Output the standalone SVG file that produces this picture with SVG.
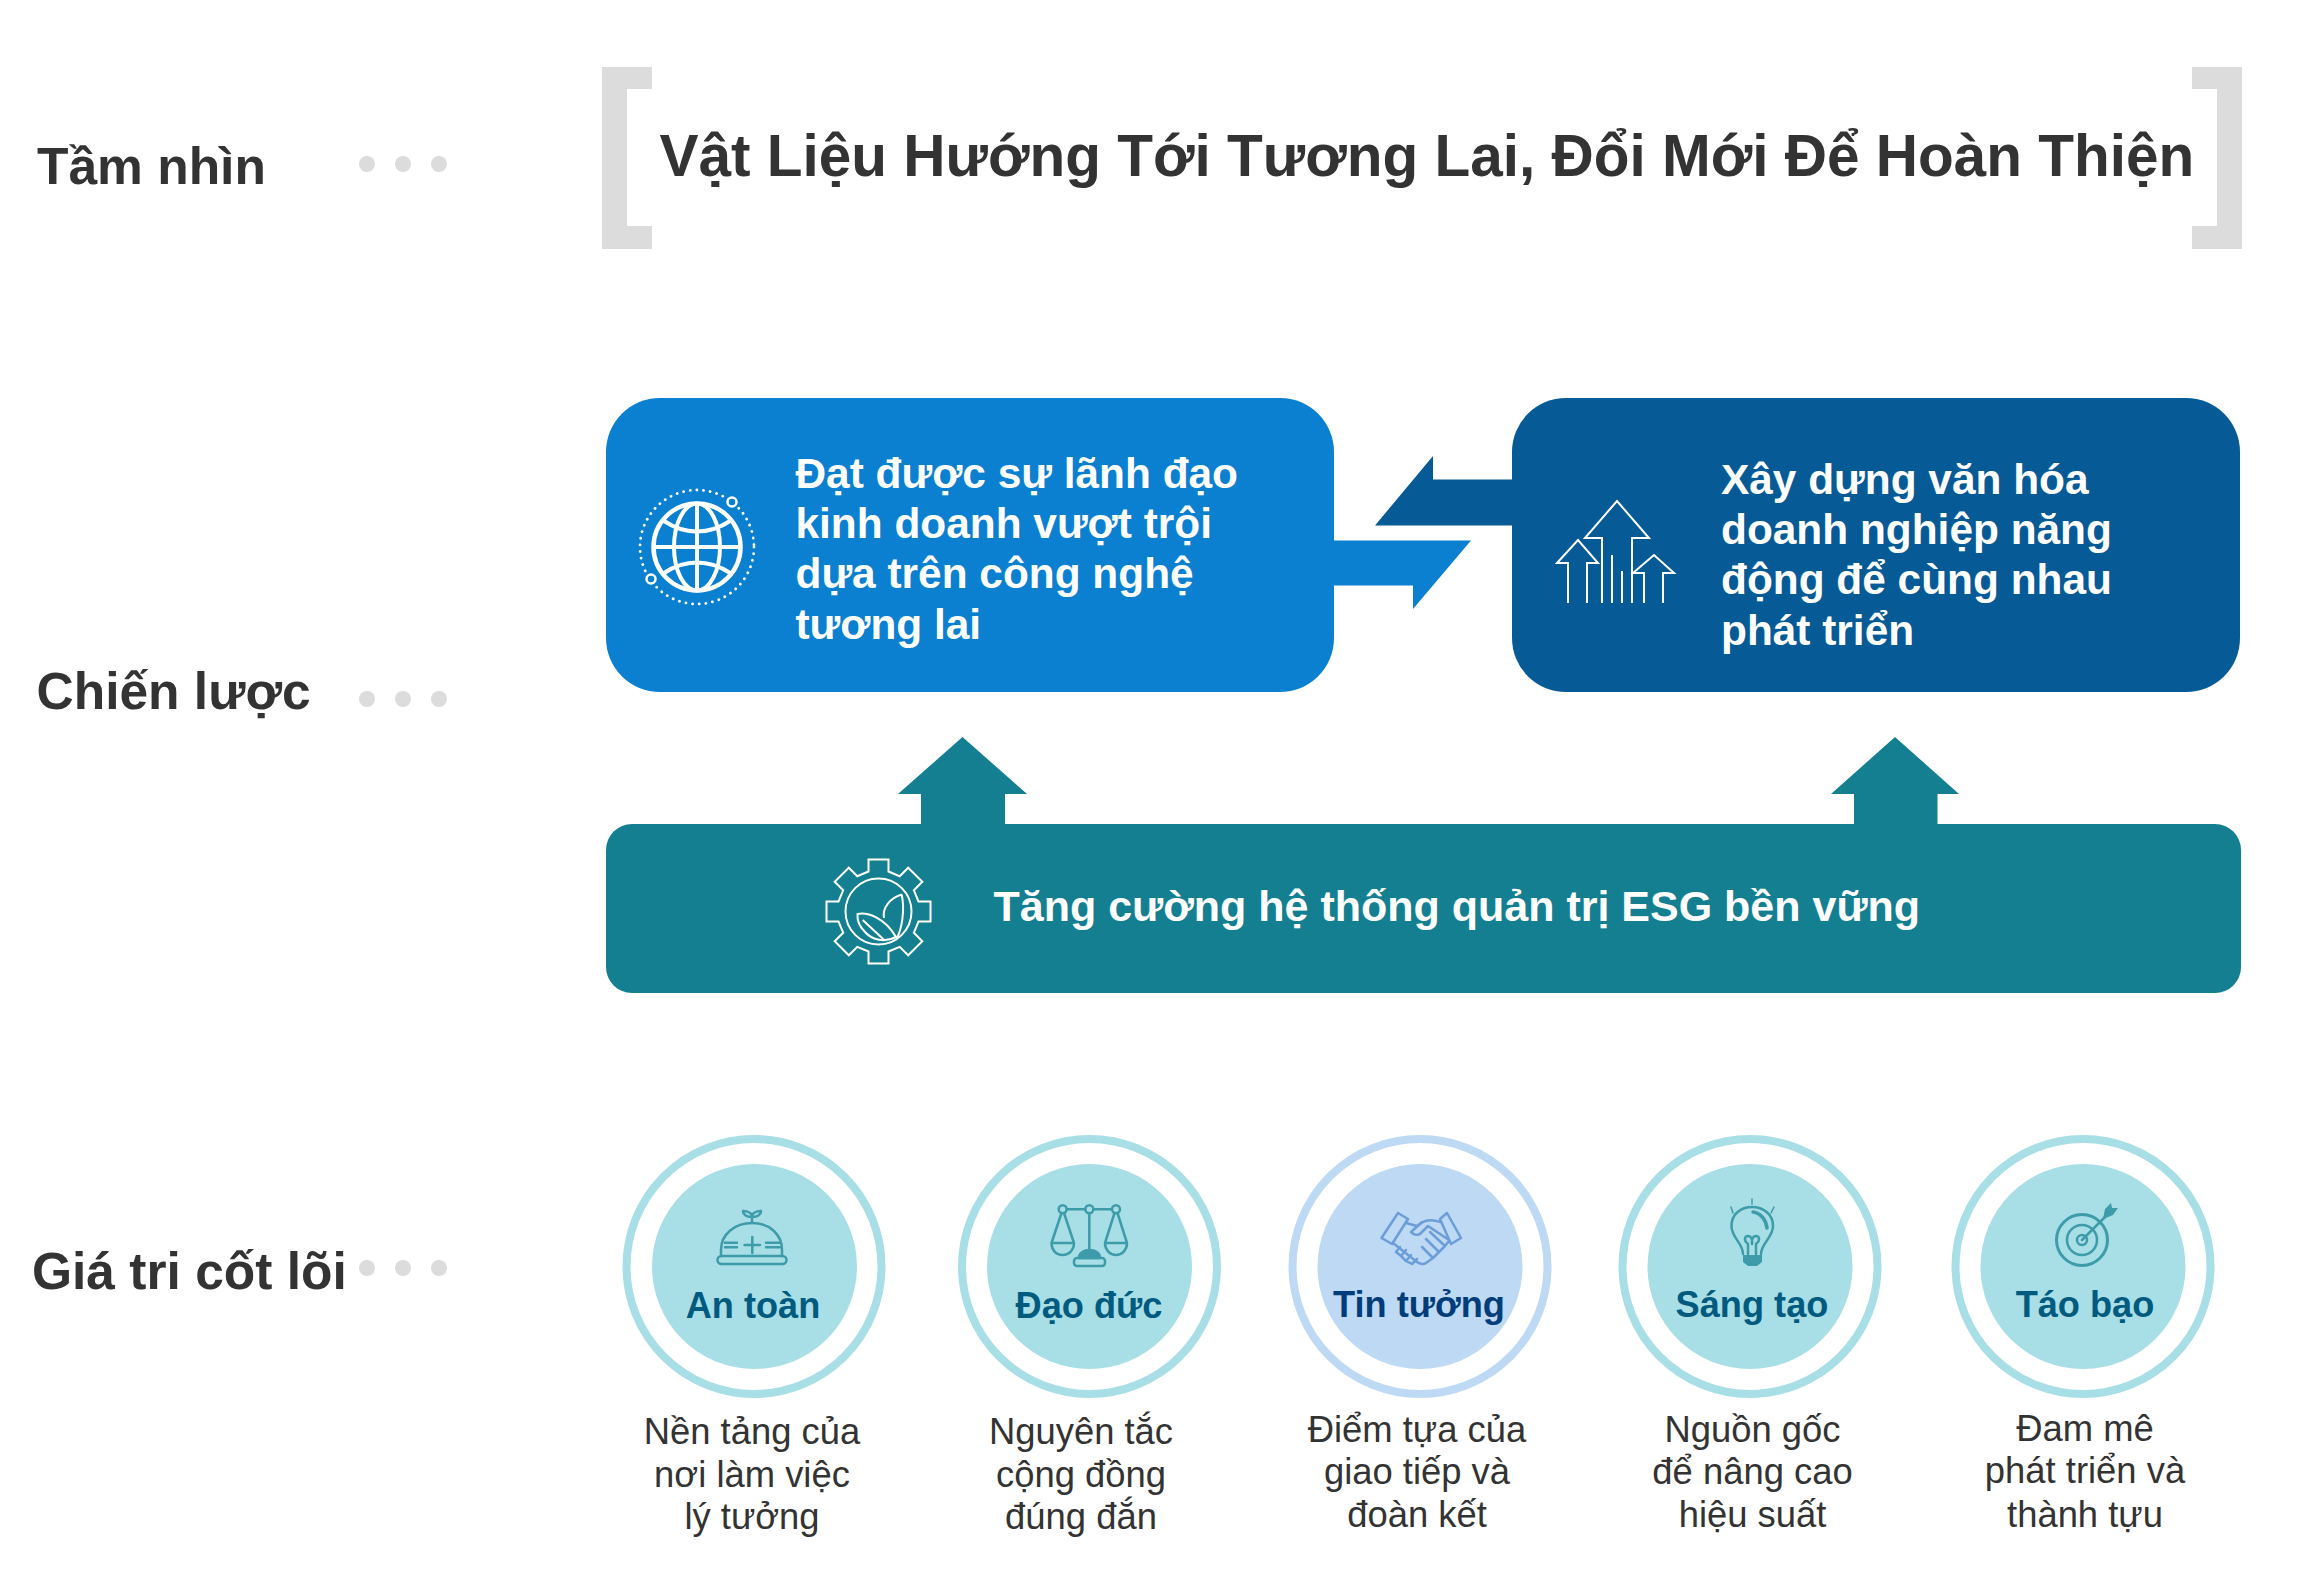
<svg xmlns="http://www.w3.org/2000/svg" width="2297" height="1588" viewBox="0 0 2297 1588">
<defs>
<style>
text{font-family:"Liberation Sans",Arial,sans-serif}
.label{font-size:51.5px;font-weight:700;fill:#333}
.title{font-size:58.5px;font-weight:700;fill:#333}
.box{font-size:42.4px;font-weight:700;fill:#fff}
.esg{font-size:43px;font-weight:700;fill:#fff}
.name{font-size:36.2px;font-weight:700;fill:#005B7F;text-anchor:middle}
.desc{font-size:36.4px;fill:#333;text-anchor:middle}
.dot{fill:#DCDCDC}
.ring{fill:none;stroke:#A8DEE5;stroke-width:8}
.disc{fill:#A8DEE5}
.ico{fill:none;stroke:#3D9BAA;stroke-width:2.5;stroke-linecap:round;stroke-linejoin:round}
.icf{fill:#3D9BAA}
.wi{fill:none;stroke:#fff;stroke-linejoin:miter}
</style>
</defs>
<rect width="2297" height="1588" fill="#fff"/>

<g id="vision-row">
<text class="label" x="37" y="183.5">Tầm nhìn</text>
<circle class="dot" cx="367" cy="164" r="8"/><circle class="dot" cx="403" cy="164" r="8"/><circle class="dot" cx="439" cy="164" r="8"/>
</g>
<g id="vision-title">
<path fill="#DCDCDC" d="M602,67H652V89H627V226H652V249H602Z"/>
<path fill="#DCDCDC" d="M2242,67H2192V89H2217V226H2192V249H2242Z"/>
<text class="title" x="659.5" y="175.5">Vật Liệu Hướng Tới Tương Lai, Đổi Mới Để Hoàn Thiện</text>
</g>

<g id="strategy-label">
<text class="label" x="36.5" y="709">Chiến lược</text>
<circle class="dot" cx="367" cy="699" r="8"/><circle class="dot" cx="403" cy="699" r="8"/><circle class="dot" cx="439" cy="699" r="8"/>
</g>

<g id="connectors">
<path fill="#065A96" d="M1514,479.5H1433V456L1375,525.5H1514Z"/>
<path fill="#0B80D0" d="M1332,540.5H1471L1413,609V585.5H1332Z"/>
<path fill="#147F91" d="M921,826V794H898L962.5,737L1027,794H1005V826Z"/>
<path fill="#147F91" d="M1854,826V794H1831L1895,737L1959,794H1937.5V826Z"/>
</g>

<g id="strategy-1">
<rect x="606" y="398" width="728" height="294" rx="54" ry="54" fill="#0B80D0"/>
<g class="wi">
<circle cx="697" cy="547" r="57" stroke-width="2.8" stroke-dasharray="0.1 6.6" stroke-linecap="round"/>
<circle cx="697" cy="547" r="43.5" stroke-width="4.5"/>
<ellipse cx="697" cy="547" rx="23" ry="43.5" stroke-width="4"/>
<path stroke-width="4" d="M697,503.5V590.5M653.5,547H740.5M664,521C685,535 709,535 730,521M664,573C685,559 709,559 730,573"/>
<circle cx="732" cy="502" r="4.5" stroke-width="2.5" style="fill:#0B80D0"/>
<circle cx="651" cy="579" r="4.5" stroke-width="2.5" style="fill:#0B80D0"/>
</g>
<text class="box" x="795.5" y="487.5">Đạt được sự lãnh đạo</text>
<text class="box" x="795.5" y="537.5">kinh doanh vượt trội</text>
<text class="box" x="795.5" y="588">dựa trên công nghệ</text>
<text class="box" x="795.5" y="638.5">tương lai</text>
</g>

<g id="strategy-2">
<rect x="1512" y="398" width="728" height="294" rx="54" ry="54" fill="#065A96"/>
<g class="wi" stroke-width="2">
<path d="M1602,603V538H1585L1617,501L1649,538H1632V603"/>
<path d="M1568,603V563H1557L1578,540L1598,563H1587V603"/>
<path d="M1644,603V573H1633L1654,555L1674,573H1663V603"/>
<path d="M1612,603V555M1622,603V571"/>
</g>
<text class="box" x="1721" y="493.5">Xây dựng văn hóa</text>
<text class="box" x="1721" y="543.5">doanh nghiệp năng</text>
<text class="box" x="1721" y="593.5">động để cùng nhau</text>
<text class="box" x="1721" y="644.5">phát triển</text>
</g>

<g id="strategy-esg">
<rect x="606" y="824" width="1635" height="169" rx="26" ry="26" fill="#147F91"/>
<g class="wi" stroke-width="2">
<path d="M868.5,871.5V859.5H888.5V871.5L899.7,876.2L908.2,867.7L922.3,881.8L913.9,890.3L918.5,901.5H930.5V921.5H918.5L913.9,932.7L922.3,941.2L908.2,955.3L899.7,946.9L888.5,951.5V963.5H868.5V951.5L857.3,946.9L848.8,955.3L834.7,941.2L843.2,932.7L838.5,921.5H826.5V901.5H838.5L843.2,890.3L834.7,881.8L848.8,867.7L857.3,876.2Z"/>
<circle cx="878.5" cy="911.5" r="33"/>
<path d="M901.7,894.5C890,898 882,908 884,918M901.7,894.5C905,910 902,928 897,938"/>
<path d="M857.5,914C868,912 885,918 896,937C885,943 872,940 865,932C860,927 857,920 857.5,914ZM862.7,920L885,940.7"/>
</g>
<text class="esg" x="993.5" y="920.5">Tăng cường hệ thống quản trị ESG bền vững</text>
</g>

<g id="values-label">
<text class="label" x="32" y="1288.5">Giá tri cốt lõi</text>
<circle class="dot" cx="367" cy="1268" r="8"/><circle class="dot" cx="403" cy="1268" r="8"/><circle class="dot" cx="439" cy="1268" r="8"/>
</g>

<g id="value-an-toan">
<circle class="ring" cx="754" cy="1266.5" r="127.5"/>
<circle class="disc" cx="754.5" cy="1266.5" r="102.5"/>
<g class="ico">
<rect x="717.5" y="1256" width="69" height="8" rx="4"/>
<path d="M721,1256V1250C721,1234 735,1223 752,1223C769,1223 782,1234 782,1250V1256"/>
<path d="M752,1223V1217M752,1217C746,1217 743,1214 743,1211C748,1211 752,1213 752,1217C752,1213 756,1211 761,1211C761,1214 758,1217 752,1217"/>
<path d="M752.3,1237V1253M744.5,1245H760M725,1242.7H737M725,1247.3H737M766,1242.7H780M766,1247.3H780"/>
</g>
<text class="name" x="753" y="1317.5">An toàn</text>
<text class="desc" x="752" y="1443.5">Nền tảng của</text>
<text class="desc" x="752" y="1486.5">nơi làm việc</text>
<text class="desc" x="752" y="1528.5">lý tưởng</text>
</g>

<g id="value-dao-duc">
<circle class="ring" cx="1089.5" cy="1266.5" r="127.5"/>
<circle class="disc" cx="1089.5" cy="1266.5" r="102.5"/>
<g class="ico">
<path d="M1066.7,1209.3H1085.3M1093.3,1209.3H1112M1089.3,1213.3V1250"/>
<circle cx="1062.7" cy="1209.3" r="4"/><circle cx="1089.3" cy="1209.3" r="4"/><circle cx="1116" cy="1209.3" r="4"/>
<path d="M1061.5,1213L1051.5,1243H1074L1064,1213M1051.5,1243C1051.5,1250 1056,1255 1062.7,1255C1069,1255 1074,1250 1074,1243"/>
<path d="M1114.5,1213L1105,1243H1127L1117.5,1213M1105,1243C1105,1250 1110,1255 1116,1255C1122,1255 1127,1250 1127,1243"/>
<path class="icf" d="M1079,1258C1079,1253 1084,1250 1089.5,1250C1095,1250 1100,1253 1100,1258Z"/>
<rect x="1074" y="1258" width="31" height="8" rx="3"/>
</g>
<text class="name" x="1089" y="1317.5">Đạo đức</text>
<text class="desc" x="1081" y="1443.5">Nguyên tắc</text>
<text class="desc" x="1081" y="1486.5">cộng đồng</text>
<text class="desc" x="1081" y="1528.5">đúng đắn</text>
</g>

<g id="value-tin-tuong">
<circle cx="1420" cy="1266.5" r="127.5" fill="none" stroke="#BDD9F3" stroke-width="8"/>
<circle cx="1420" cy="1266.5" r="102.5" fill="#BDD9F3"/>
<g fill="none" stroke="#6C9DD8" stroke-width="2.5" stroke-linejoin="round" stroke-linecap="round">
<path d="M1398,1213L1381.5,1238L1392,1244L1408,1219Z"/>
<path d="M1447,1213L1461,1238L1451,1244L1440,1219Z"/>
<path d="M1406,1223L1417,1226L1423,1222C1428,1219 1434,1220 1441,1222"/>
<path d="M1449,1240L1428,1226L1421,1233C1418,1236 1414,1235 1411,1232L1422,1222"/>
<path d="M1449,1241L1445,1246M1445,1246L1430,1232M1445,1246L1439,1252L1426,1239M1439,1252L1433,1258L1422,1247M1433,1258L1426,1263C1423,1265 1420,1264 1417,1262"/>
<path d="M1393,1243L1417,1262M1400,1247L1396,1252L1401,1256L1406,1250M1401,1256L1406,1261L1411,1255M1406,1261L1412,1264L1417,1259"/>
</g>
<text class="name" x="1419" y="1316.5" style="fill:#003D7A">Tin tưởng</text>
<text class="desc" x="1417" y="1441.5">Điểm tựa của</text>
<text class="desc" x="1417" y="1483.5">giao tiếp và</text>
<text class="desc" x="1417" y="1526.5">đoàn kết</text>
</g>

<g id="value-sang-tao">
<circle class="ring" cx="1750" cy="1266.5" r="127.5"/>
<circle class="disc" cx="1750" cy="1266.5" r="102.5"/>
<g class="ico">
<path d="M1743,1254C1743,1243 1731.5,1238 1731.5,1226C1731.5,1214 1741,1207 1752,1207C1763,1207 1773,1214 1773,1226C1773,1238 1761,1243 1761,1254"/>
<path d="M1748,1254V1244C1743,1240 1745,1236 1748,1236C1751,1236 1753,1240 1752,1244C1751,1240 1753,1236 1756,1236C1759,1236 1761,1240 1756,1244V1254"/>
<path stroke-width="3.5" d="M1753,1212C1761,1213 1766,1220 1767,1228"/>
<path stroke-width="1.5" d="M1752,1199V1204M1731,1207L1733,1213M1774,1207L1771,1213"/>
</g>
<path class="icf" d="M1743,1255H1762V1262L1757,1266H1748L1743,1262Z"/>
<text class="name" x="1752" y="1316.5">Sáng tạo</text>
<text class="desc" x="1752.5" y="1441.5">Nguồn gốc</text>
<text class="desc" x="1752.5" y="1483.5">để nâng cao</text>
<text class="desc" x="1752.5" y="1526.5">hiệu suất</text>
</g>

<g id="value-tao-bao">
<circle class="ring" cx="2083" cy="1266.5" r="127.5"/>
<circle class="disc" cx="2083" cy="1266.5" r="102.5"/>
<g class="ico">
<circle cx="2082" cy="1240" r="25.5" stroke-width="3"/>
<circle cx="2082" cy="1240" r="15"/>
<circle cx="2082" cy="1240" r="5"/>
<path d="M2082,1240L2106,1216"/>
</g>
<path class="icf" d="M2103,1219L2105,1209L2111,1203L2112,1208L2118,1208L2113,1215Z"/>
<text class="name" x="2085" y="1316.5">Táo bạo</text>
<text class="desc" x="2085" y="1440.5">Đam mê</text>
<text class="desc" x="2085" y="1482.5">phát triển và</text>
<text class="desc" x="2085" y="1526.5">thành tựu</text>
</g>
</svg>
